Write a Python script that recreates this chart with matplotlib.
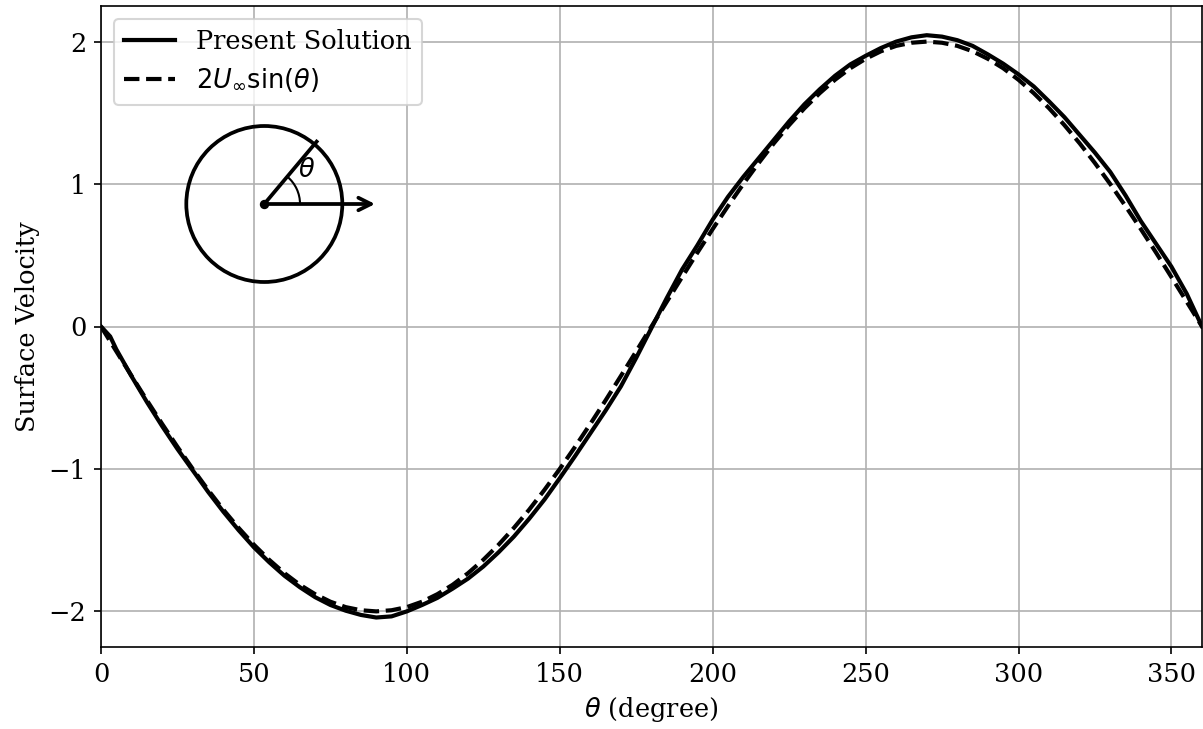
import matplotlib
matplotlib.use("Agg")
import matplotlib.pyplot as plt
from matplotlib.patches import Circle, Arc

plt.rcParams['font.family'] = ['DejaVu Serif']
plt.rcParams['font.size'] = 12.3

# Present (numerical) solution
theta_num = [0, 3, 5, 10, 15, 20, 25, 30, 35, 40, 45, 50, 55, 60, 65, 70, 75, 80, 85, 90,
             95, 100, 105, 110, 115, 120, 125, 130, 135, 140, 145, 150, 155, 160, 165, 170,
             175, 180, 185, 190, 195, 200, 205, 210, 215, 220, 225, 230, 235, 240, 245, 250,
             255, 260, 265, 270, 275, 280, 285, 290, 295, 300, 305, 310, 315, 320, 325, 330,
             335, 340, 345, 350, 355, 360]
vel_num = [0.0, -0.07, -0.16, -0.35, -0.53, -0.70, -0.86, -1.01, -1.16, -1.30, -1.43, -1.55,
           -1.655, -1.75, -1.83, -1.90, -1.955, -1.995, -2.025, -2.043,
           -2.035, -2.00, -1.955, -1.905, -1.84, -1.77, -1.685, -1.585, -1.475, -1.35, -1.215,
           -1.065, -0.91, -0.75, -0.59, -0.42, -0.22, -0.01, 0.20, 0.40, 0.57, 0.75, 0.91,
           1.05, 1.18, 1.31, 1.44, 1.56, 1.665, 1.76, 1.84, 1.90, 1.955, 2.00, 2.03, 2.045,
           2.035, 2.01, 1.97, 1.91, 1.845, 1.77, 1.685, 1.58, 1.47, 1.345, 1.22, 1.085,
           0.92, 0.74, 0.58, 0.42, 0.23, 0.0]

# Analytical reference curve values
theta_ana = [0, 5, 10, 15, 20, 25, 30, 35, 40, 45, 50, 55, 60, 65, 70, 75, 80, 85, 90,
             95, 100, 105, 110, 115, 120, 125, 130, 135, 140, 145, 150, 155, 160, 165, 170,
             175, 180, 185, 190, 195, 200, 205, 210, 215, 220, 225, 230, 235, 240, 245, 250,
             255, 260, 265, 270, 275, 280, 285, 290, 295, 300, 305, 310, 315, 320, 325, 330,
             335, 340, 345, 350, 355, 360]
vel_ana = [0.0, -0.174, -0.347, -0.518, -0.684, -0.845, -1.0, -1.147, -1.286, -1.414, -1.532,
           -1.638, -1.732, -1.813, -1.879, -1.932, -1.970, -1.992, -2.0,
           -1.992, -1.970, -1.932, -1.879, -1.813, -1.732, -1.638, -1.532, -1.414, -1.286,
           -1.147, -1.0, -0.845, -0.684, -0.518, -0.347, -0.174, 0.0,
           0.174, 0.347, 0.518, 0.684, 0.845, 1.0, 1.147, 1.286, 1.414, 1.532, 1.638, 1.732,
           1.813, 1.879, 1.932, 1.970, 1.992, 2.0, 1.992, 1.970, 1.932, 1.879, 1.813, 1.732,
           1.638, 1.532, 1.414, 1.286, 1.147, 1.0, 0.845, 0.684, 0.518, 0.347, 0.174, 0.0]

label_num = "Present Solution"
label_ana = r"$2U_{\infty}\sin(\theta)$"

W, H = 1203, 729
fig = plt.figure(figsize=(W / 150, H / 150), dpi=150)
ax = fig.add_axes([101 / W, (H - 647) / H, 1101 / W, 641 / H])

ax.plot(theta_num, vel_num, color='black', lw=2.0, label=label_num)
ax.plot(theta_ana, vel_ana, color='black', lw=2.0, ls='--', label=label_ana)
ax.set_xlim(0, 360)
ax.set_ylim(-2.25, 2.25)
ax.set_yticks([-2, -1, 0, 1, 2])
ax.grid(True)
ax.set_xlabel(r"$\theta$ (degree)")
ax.set_ylabel("Surface Velocity")
ax.legend(loc='upper left')

# Inset sketch: cylinder with angle theta
cx, cy, half = 264.3, 204.0, 120.0
ins = fig.add_axes([(cx - half) / W, (H - cy - half) / H, 2 * half / W, 2 * half / H])
ins.set_xlim(-half / 78, half / 78)
ins.set_ylim(-half / 78, half / 78)
ins.axis('off')
ins.patch.set_alpha(0)
ins.add_patch(Circle((0, 0), 1.0, fill=False, lw=1.8, color='black'))
ins.plot([0, 1.044 * 0.6428], [0, 1.044 * 0.7660], color='black', lw=1.8)
ins.add_patch(Arc((0, 0), 0.916, 0.916, theta1=0, theta2=50, lw=1.0, color='black'))
ins.annotate('', xy=(1.42, 0), xytext=(0, 0),
             arrowprops=dict(arrowstyle='->', lw=1.8, color='black', mutation_scale=15,
                             shrinkA=0, shrinkB=0))
ins.plot([0], [0], 'o', color='black', ms=3.5)
ins.text(0.543, 0.436, r"$\theta$", ha='center', va='center', fontsize=12.3)

fig.savefig("out.png", dpi=150)
